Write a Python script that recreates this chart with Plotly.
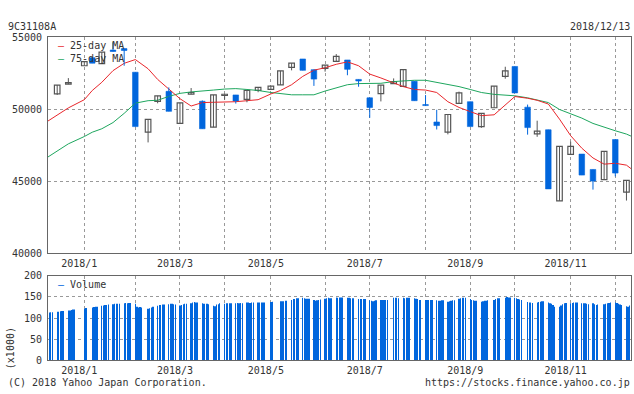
import numpy as np
import plotly.graph_objects as go

# ---------------- data ----------------
x_start = "2017-12-12 05:40"
x_end = "2018-12-12 20:18"

# weekly candles (first trading day of each week)
week_dates = ["2017-12-18", "2017-12-25", "2018-01-04", "2018-01-09", "2018-01-15", "2018-01-22", "2018-01-29",
              "2018-02-05", "2018-02-13", "2018-02-19", "2018-02-26", "2018-03-05", "2018-03-12", "2018-03-19",
              "2018-03-26", "2018-04-02", "2018-04-09", "2018-04-16", "2018-04-23", "2018-05-01", "2018-05-07",
              "2018-05-14", "2018-05-21", "2018-05-28", "2018-06-04", "2018-06-11", "2018-06-18", "2018-06-25",
              "2018-07-02", "2018-07-09", "2018-07-17", "2018-07-23", "2018-07-30", "2018-08-06", "2018-08-13",
              "2018-08-20", "2018-08-27", "2018-09-03", "2018-09-10", "2018-09-18", "2018-09-25", "2018-10-01",
              "2018-10-09", "2018-10-15", "2018-10-22", "2018-10-29", "2018-11-05", "2018-11-12", "2018-11-19",
              "2018-11-26", "2018-12-03", "2018-12-10"]

open_ = [51070, 51750, 53030, 53590, 53180, 54120, 54220, 52580, 48420, 50550,
         51250, 49030, 51050, 50560, 48760, 50960, 51000, 50690, 51320, 51390,
         51700, 52910, 53500, 52760, 52850, 53340, 53430, 52080, 50800, 51090,
         51790, 51590, 51950, 50330, 49120, 48420, 50420, 50530, 48800, 50110,
         52290, 52980, 50150, 48290, 48580, 43640, 46870, 46890, 45820, 45120,
         47900, 44250]
high = [51690, 52170, 53320, 53590, 53970, 54660, 54220, 52580, 49300, 50940,
        51520, 50450, 51480, 50620, 51000, 51050, 51000, 51320, 51520, 51610,
        52670, 53210, 53500, 52760, 53070, 53840, 53430, 52080, 50800, 51680,
        52150, 52760, 51950, 50990, 49970, 49640, 51230, 50530, 49720, 51610,
        52960, 52980, 50330, 49210, 48580, 47430, 47750, 46890, 45820, 47080,
        47900, 45060]
low = [51000, 51750, 53030, 53210, 53180, 54020, 53030, 48800, 47700, 50420,
       49860, 49030, 51050, 48650, 48760, 50670, 50400, 50490, 51190, 51390,
       51700, 52710, 52710, 51630, 52620, 53340, 52370, 51570, 49410, 50550,
       51790, 51590, 50600, 50260, 48600, 48260, 50420, 48800, 48710, 50110,
       52130, 51140, 48240, 48090, 44470, 43640, 46870, 45430, 44420, 45120,
       45340, 43660]
close = [51680, 51860, 53320, 53210, 53970, 54020, 54090, 48800, 49300, 50940,
         49860, 50450, 51160, 48650, 51000, 51050, 50580, 51320, 51520, 51610,
         52670, 53210, 52710, 52100, 53070, 53680, 52780, 51970, 50130, 51680,
         51930, 52760, 50600, 50260, 48870, 49640, 51140, 48800, 49720, 51610,
         52670, 51140, 48730, 48490, 44470, 47430, 47430, 45430, 45010, 47080,
         45570, 45060]

# moving averages sampled at the axis start, each candle date and the axis end
ma_dates = ["2017-12-12 06:00"] + week_dates + ["2018-12-12 20:00"]
ma25 = [49190, 49590, 50100, 50670, 51310, 51880, 52690, 53200, 53460, 52820,
        52080, 51410, 50740, 50230, 50470, 50490, 50490, 50530, 50600, 50670,
        51070, 51310, 51710, 52290, 52720, 52890, 53130, 53300, 53030, 52450,
        52180, 51850, 51580, 51380, 51340, 51170, 50530, 50130, 49860, 49560,
        49620, 50330, 50890, 50770, 50630, 50370, 49320, 48170, 47300, 46620,
        46190, 46250, 46120, 45880]
ma75 = [46690, 47100, 47600, 48110, 48410, 48650, 49080, 49720, 50430, 50600,
        50630, 50900, 51110, 51210, 51300, 51340, 51410, 51440, 51380, 51310,
        51170, 51110, 51010, 51010, 51010, 51270, 51510, 51710, 51790, 51790,
        51810, 51930, 51980, 52020, 52020, 51880, 51730, 51580, 51380, 51170,
        51040, 50970, 50940, 50800, 50670, 50470, 49990, 49690, 49390, 49020,
        48750, 48510, 48280, 48140]

# daily volume (x1000), listed week by week (weeks start on Mondays)
vol_week_start = "2017-12-11"
vol_first_day = "2017-12-13"
holidays = ["2018-01-01", "2018-01-02", "2018-01-03", "2018-01-08", "2018-02-12",
            "2018-03-21", "2018-04-30", "2018-05-03", "2018-05-04", "2018-07-16", "2018-09-17",
            "2018-09-24", "2018-10-08", "2018-11-23"]
volume_weeks = [
    [113, 114, 114], [115, 115, 116, 117, 117], [118, 118, 119, 120, 120], [122, 124],
    [125, 126, 127, 127], [129, 130, 131, 131, 132], [133, 134, 134, 134, 134], [135, 136, 135, 136, 136],
    [134, 127, 125, 126, 125], [122, 123, 125, 127], [129, 131, 131, 132, 132], [133, 134, 134, 133, 132],
    [130, 131, 133, 134, 134], [135, 137, 138, 137, 137], [135, 134, 134, 133], [129, 128, 132, 133, 135],
    [134, 135, 135, 135, 135], [135, 136, 135, 136, 135], [137, 137, 136, 137, 137], [137, 137, 137, 137, 137],
    [138, 139], [140, 140, 140, 141, 141], [143, 145, 145, 147, 147], [148, 147, 146, 146, 146],
    [143, 141, 142, 143, 144], [146, 147, 148, 147, 147], [149, 148, 149, 149, 149], [148, 148, 147, 147, 147],
    [145, 145, 145, 145, 145], [142, 141, 140, 141, 142], [143, 143, 143, 143, 143], [148, 148, 148, 147],
    [148, 147, 148, 148, 148], [147, 146, 145, 143, 143], [143, 143, 143, 143, 143], [142, 141, 141, 142, 142],
    [139, 140, 141, 142, 142], [146, 147, 148, 148, 148], [145, 143, 142, 141, 141], [139, 140, 141, 141, 142],
    [143, 145, 147, 147], [148, 150, 149, 149], [148, 147, 145, 144, 143], [138, 137, 137, 136],
    [137, 138, 139, 140, 140], [137, 135, 134, 131, 127], [127, 130, 133, 135, 136], [135, 136, 137, 137, 137],
    [135, 135, 135, 134, 133], [135, 133, 131, 132], [133, 134, 135, 136, 137], [137, 136, 134, 132, 131],
    [128, 127, 130, 131]]

month_ticks = ["2018-01-04", "2018-02-05", "2018-03-05", "2018-04-02", "2018-05-01", "2018-06-04",
               "2018-07-02", "2018-08-06", "2018-09-03", "2018-10-01", "2018-11-05", "2018-12-03"]
month_labels = ["2018/1", "", "2018/3", "", "2018/5", "", "2018/7", "", "2018/9", "", "2018/11", ""]

code = "9C31108A"
as_of = "2018/12/13"

# ---------------- build ----------------
DAY_MS = 86400000
BLUE = "#0066dd"
GRAY = "#555555"
RED = "#e8262b"
GREEN = "#1ea65e"

fig = go.Figure()

# moving averages
fig.add_trace(go.Scatter(x=ma_dates, y=ma75, mode="lines", line=dict(color=GREEN, width=1),
                         xaxis="x", yaxis="y", hoverinfo="skip"))
fig.add_trace(go.Scatter(x=ma_dates, y=ma25, mode="lines", line=dict(color=RED, width=1),
                         xaxis="x", yaxis="y", hoverinfo="skip"))

# wicks
for up in (True, False):
    xs, ys = [], []
    for d, o, h, l, c in zip(week_dates, open_, high, low, close):
        if (c >= o) == up:
            xs += [d, d, None]
            ys += [l, h, None]
    fig.add_trace(go.Scatter(x=xs, y=ys, mode="lines", line=dict(color=GRAY if up else BLUE, width=1),
                             xaxis="x", yaxis="y", hoverinfo="skip"))

# bodies
ux = [d for d, o, c in zip(week_dates, open_, close) if c >= o]
ub = [o for o, c in zip(open_, close) if c >= o]
uh = [c - o for o, c in zip(open_, close) if c >= o]
dx = [d for d, o, c in zip(week_dates, open_, close) if c < o]
db = [c for o, c in zip(open_, close) if c < o]
dh = [o - c for o, c in zip(open_, close) if c < o]
BODY_W = 3.5 * DAY_MS
fig.add_trace(go.Bar(x=ux, y=uh, base=ub, width=BODY_W,
                     marker=dict(color="white", line=dict(color=GRAY, width=1.2)),
                     xaxis="x", yaxis="y", hoverinfo="skip"))
fig.add_trace(go.Bar(x=dx, y=dh, base=db, width=BODY_W,
                     marker=dict(color=BLUE, line=dict(color=BLUE, width=0.6)),
                     xaxis="x", yaxis="y", hoverinfo="skip"))

# volume
vs = np.datetime64(vol_week_start)
first = np.datetime64(vol_first_day)
hol = set(holidays)
vol_x, vol_y = [], []
for k, vals in enumerate(volume_weeks):
    mon = vs + np.timedelta64(7 * k, "D")
    days = [mon + np.timedelta64(d, "D") for d in range(5)]
    days = [d for d in days if d >= first and str(d) not in hol]
    for d, v in zip(days, vals):
        vol_x.append(str(d))
        vol_y.append(v)
fig.add_trace(go.Bar(x=vol_x, y=vol_y, width=0.2 * DAY_MS, marker=dict(color=BLUE, line=dict(width=0)),
                     xaxis="x2", yaxis="y2", hoverinfo="skip"))

W, H = 634, 394
xdom = [48 / W, 631 / W]
FONT = "DejaVu Sans Mono"
common_x = dict(type="date", domain=xdom, range=[x_start, x_end], tickvals=month_ticks, ticktext=month_labels,
                showgrid=True, gridcolor="#999999", griddash="3px,3px", gridwidth=1, showline=True,
                mirror=True, linecolor="#666666", linewidth=1, zeroline=False, ticks="", ticklabelshift=-5,
                ticklabelstandoff=1, tickfont=dict(family=FONT, size=10, color="#333"))
common_y = dict(showgrid=True, gridcolor="#999999", griddash="3px,3px", gridwidth=1, showline=True,
                mirror=True, linecolor="#666666", linewidth=1, zeroline=False, ticks="", tickformat="d",
                tickfont=dict(family=FONT, size=10, color="#333"), ticklabelstandoff=3)

fig.update_layout(
    width=W, height=H, margin=dict(l=0, r=0, t=0, b=0),
    paper_bgcolor="white", plot_bgcolor="white", showlegend=False, barmode="overlay",
    font=dict(family=FONT, size=10, color="#333"),
    xaxis=dict(anchor="y", **common_x),
    yaxis=dict(anchor="x", domain=[1 - 254.3 / H, 1 - 32.3 / H], range=[40000, 55000],
               tickvals=[40000, 45000, 50000, 55000], **common_y),
    xaxis2=dict(anchor="y2", matches="x", **common_x),
    yaxis2=dict(anchor="x2", domain=[1 - 364.3 / H, 1 - 277.7 / H], range=[0, 200],
                tickvals=[0, 50, 100, 150, 200], **common_y),
)


def txt(s, x, y, xa="left", **kw):
    fig.add_annotation(text=s, x=x / W, y=1 - y / H, xref="paper", yref="paper", xanchor=xa,
                       yanchor="middle", showarrow=False, font=dict(family=FONT, size=10, color="#333"), **kw)


txt(code, 6, 21)
txt(as_of, 632, 21, "right")
txt("(C) 2018 Yahoo Japan Corporation.", 6, 387)
txt("https://stocks.finance.yahoo.co.jp", 632, 387, "right")
txt("(x1000)", 10, 352, "center", textangle=-90)
txt(f"<span style='color:{RED}'>—</span> 25-day MA", 56, 41)
txt(f"<span style='color:{GREEN}'>—</span> 75-day MA", 56, 54)
txt(f"<span style='color:{BLUE}'>—</span> Volume", 56, 287)

fig.write_html("out.html", config={"displayModeBar": False},
               post_script="document.body.style.margin='0px';")
